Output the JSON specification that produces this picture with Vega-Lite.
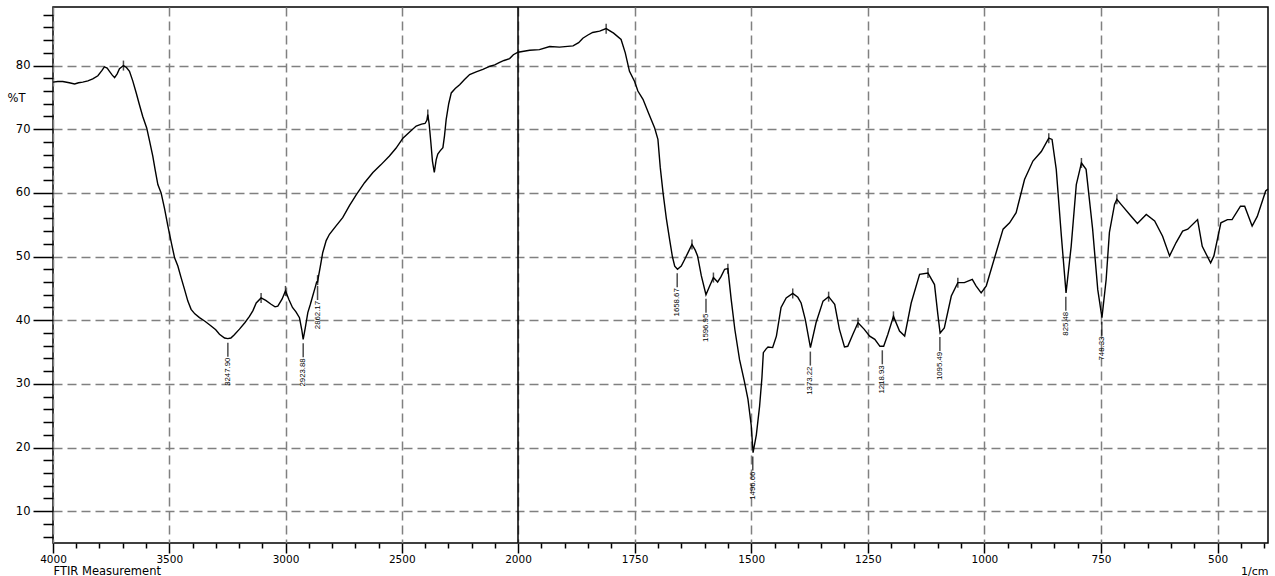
{
  "$schema": "https://vega.github.io/schema/vega-lite/v6.json",
  "autosize": "none",
  "width": 1215,
  "height": 536,
  "padding": {"left": 53, "top": 7, "right": 7, "bottom": 33},
  "background": "white",
  "config": {
    "view": {"stroke": "black", "strokeWidth": 1.5},
    "axis": {"labelFont": "DejaVu Sans", "titleFont": "DejaVu Sans", "labelColor": "black", "titleColor": "black", "titleFontWeight": "normal", "domain": false, "tickColor": "black"}
  },
  "datasets": {
    "spectrum": [
      {"wn":4000,"t":77.4},{"wn":3980,"t":77.5},{"wn":3958,"t":77.5},{"wn":3930,"t":77.3},{"wn":3907,"t":77.1},{"wn":3890,"t":77.3},{"wn":3872,"t":77.4},{"wn":3850,"t":77.6},{"wn":3829,"t":77.9},{"wn":3807,"t":78.4},{"wn":3790,"t":79.2},{"wn":3779,"t":79.8},{"wn":3767,"t":79.6},{"wn":3757,"t":79.1},{"wn":3745,"t":78.5},{"wn":3735,"t":78.1},{"wn":3724,"t":78.7},{"wn":3714,"t":79.5},{"wn":3697,"t":80.0},{"wn":3684,"t":79.7},{"wn":3671,"t":79.1},{"wn":3657,"t":77.6},{"wn":3642,"t":75.7},{"wn":3628,"t":73.8},{"wn":3614,"t":72.0},{"wn":3597,"t":70.2},{"wn":3585,"t":68.2},{"wn":3571,"t":65.8},{"wn":3560,"t":63.5},{"wn":3549,"t":61.3},{"wn":3535,"t":60.0},{"wn":3520,"t":57.5},{"wn":3506,"t":54.8},{"wn":3490,"t":52.0},{"wn":3477,"t":49.8},{"wn":3463,"t":48.5},{"wn":3450,"t":46.8},{"wn":3434,"t":44.8},{"wn":3420,"t":43.0},{"wn":3406,"t":41.7},{"wn":3390,"t":41.0},{"wn":3370,"t":40.4},{"wn":3345,"t":39.8},{"wn":3320,"t":39.1},{"wn":3300,"t":38.5},{"wn":3284,"t":37.8},{"wn":3262,"t":37.2},{"wn":3248,"t":37.1},{"wn":3235,"t":37.2},{"wn":3220,"t":37.7},{"wn":3198,"t":38.6},{"wn":3175,"t":39.6},{"wn":3155,"t":40.6},{"wn":3140,"t":41.5},{"wn":3126,"t":42.7},{"wn":3105,"t":43.5},{"wn":3085,"t":43.1},{"wn":3062,"t":42.5},{"wn":3045,"t":42.1},{"wn":3033,"t":42.2},{"wn":3015,"t":43.3},{"wn":3000,"t":44.6},{"wn":2985,"t":43.2},{"wn":2970,"t":42.0},{"wn":2955,"t":41.3},{"wn":2940,"t":40.4},{"wn":2930,"t":38.5},{"wn":2924,"t":37.0},{"wn":2915,"t":38.8},{"wn":2904,"t":41.2},{"wn":2893,"t":42.5},{"wn":2883,"t":43.8},{"wn":2872,"t":45.2},{"wn":2866,"t":46.0},{"wn":2862,"t":46.0},{"wn":2858,"t":46.9},{"wn":2850,"t":48.5},{"wn":2840,"t":50.6},{"wn":2825,"t":52.5},{"wn":2811,"t":53.5},{"wn":2785,"t":54.7},{"wn":2754,"t":56.1},{"wn":2725,"t":58.0},{"wn":2696,"t":59.7},{"wn":2660,"t":61.6},{"wn":2624,"t":63.2},{"wn":2590,"t":64.4},{"wn":2553,"t":65.8},{"wn":2525,"t":67.0},{"wn":2495,"t":68.6},{"wn":2465,"t":69.6},{"wn":2438,"t":70.5},{"wn":2415,"t":70.8},{"wn":2400,"t":70.9},{"wn":2392,"t":71.4},{"wn":2388,"t":72.3},{"wn":2382,"t":70.8},{"wn":2375,"t":68.0},{"wn":2368,"t":65.0},{"wn":2360,"t":63.2},{"wn":2352,"t":65.2},{"wn":2345,"t":66.1},{"wn":2335,"t":66.6},{"wn":2323,"t":67.1},{"wn":2316,"t":69.0},{"wn":2309,"t":71.5},{"wn":2298,"t":74.0},{"wn":2287,"t":75.7},{"wn":2270,"t":76.4},{"wn":2251,"t":77.0},{"wn":2230,"t":77.8},{"wn":2208,"t":78.6},{"wn":2180,"t":79.0},{"wn":2151,"t":79.4},{"wn":2120,"t":79.9},{"wn":2100,"t":80.1},{"wn":2079,"t":80.5},{"wn":2060,"t":80.8},{"wn":2036,"t":81.1},{"wn":2020,"t":81.7},{"wn":2000,"t":82.1},{"wn":1975,"t":82.4},{"wn":1954,"t":82.5},{"wn":1932,"t":83.0},{"wn":1911,"t":82.9},{"wn":1882,"t":83.1},{"wn":1870,"t":83.6},{"wn":1861,"t":84.3},{"wn":1850,"t":84.8},{"wn":1840,"t":85.2},{"wn":1825,"t":85.4},{"wn":1811,"t":85.8},{"wn":1795,"t":85.1},{"wn":1779,"t":84.1},{"wn":1770,"t":82.0},{"wn":1761,"t":79.1},{"wn":1750,"t":77.5},{"wn":1743,"t":76.0},{"wn":1732,"t":74.7},{"wn":1720,"t":72.5},{"wn":1707,"t":70.2},{"wn":1700,"t":68.4},{"wn":1695,"t":64.0},{"wn":1689,"t":60.0},{"wn":1682,"t":56.0},{"wn":1675,"t":52.7},{"wn":1669,"t":50.0},{"wn":1664,"t":48.5},{"wn":1658,"t":48.0},{"wn":1650,"t":48.5},{"wn":1643,"t":49.5},{"wn":1635,"t":50.7},{"wn":1627,"t":51.9},{"wn":1620,"t":51.0},{"wn":1615,"t":50.1},{"wn":1607,"t":47.0},{"wn":1597,"t":44.0},{"wn":1590,"t":45.2},{"wn":1581,"t":46.7},{"wn":1572,"t":46.0},{"wn":1565,"t":46.8},{"wn":1557,"t":48.0},{"wn":1550,"t":48.1},{"wn":1543,"t":43.3},{"wn":1535,"t":38.5},{"wn":1525,"t":33.8},{"wn":1515,"t":30.5},{"wn":1507,"t":27.6},{"wn":1500,"t":23.5},{"wn":1496,"t":19.2},{"wn":1489,"t":22.0},{"wn":1482,"t":26.5},{"wn":1477,"t":31.0},{"wn":1474,"t":34.9},{"wn":1468,"t":35.5},{"wn":1464,"t":35.8},{"wn":1454,"t":35.7},{"wn":1446,"t":37.5},{"wn":1436,"t":42.0},{"wn":1425,"t":43.5},{"wn":1411,"t":44.2},{"wn":1400,"t":43.6},{"wn":1393,"t":42.7},{"wn":1384,"t":40.1},{"wn":1373,"t":35.7},{"wn":1361,"t":39.6},{"wn":1346,"t":43.0},{"wn":1334,"t":43.7},{"wn":1321,"t":42.5},{"wn":1311,"t":38.6},{"wn":1300,"t":35.8},{"wn":1293,"t":35.9},{"wn":1282,"t":37.8},{"wn":1271,"t":39.6},{"wn":1258,"t":38.6},{"wn":1246,"t":37.5},{"wn":1235,"t":37.0},{"wn":1224,"t":35.9},{"wn":1216,"t":35.9},{"wn":1207,"t":37.8},{"wn":1195,"t":40.6},{"wn":1182,"t":38.3},{"wn":1171,"t":37.5},{"wn":1157,"t":42.7},{"wn":1139,"t":47.2},{"wn":1121,"t":47.4},{"wn":1107,"t":45.6},{"wn":1100,"t":41.0},{"wn":1095,"t":38.0},{"wn":1086,"t":38.8},{"wn":1071,"t":43.8},{"wn":1057,"t":45.9},{"wn":1043,"t":45.9},{"wn":1026,"t":46.4},{"wn":1018,"t":45.4},{"wn":1007,"t":44.3},{"wn":996,"t":45.4},{"wn":975,"t":50.6},{"wn":960,"t":54.3},{"wn":946,"t":55.3},{"wn":932,"t":56.9},{"wn":914,"t":62.1},{"wn":896,"t":65.0},{"wn":878,"t":66.5},{"wn":862,"t":68.6},{"wn":855,"t":68.4},{"wn":846,"t":63.7},{"wn":835,"t":53.2},{"wn":825,"t":44.3},{"wn":814,"t":51.6},{"wn":803,"t":61.3},{"wn":792,"t":64.7},{"wn":782,"t":63.7},{"wn":768,"t":54.3},{"wn":757,"t":44.8},{"wn":748,"t":40.4},{"wn":739,"t":46.4},{"wn":732,"t":53.8},{"wn":721,"t":58.2},{"wn":716,"t":59.0},{"wn":707,"t":58.2},{"wn":685,"t":56.3},{"wn":672,"t":55.2},{"wn":653,"t":56.6},{"wn":635,"t":55.6},{"wn":618,"t":53.2},{"wn":603,"t":50.1},{"wn":589,"t":52.2},{"wn":575,"t":54.0},{"wn":564,"t":54.3},{"wn":543,"t":55.8},{"wn":533,"t":51.6},{"wn":515,"t":49.0},{"wn":508,"t":50.1},{"wn":493,"t":55.3},{"wn":479,"t":55.8},{"wn":469,"t":55.8},{"wn":451,"t":57.9},{"wn":442,"t":57.9},{"wn":426,"t":54.8},{"wn":415,"t":56.3},{"wn":397,"t":60.3},{"wn":392,"t":60.6}
    ],
    "maxima": [
      {"wn":3697,"t":80.0},{"wn":3105,"t":43.5},{"wn":3000,"t":44.6},{"wn":2862,"t":46.3},{"wn":2388,"t":72.3},{"wn":1811,"t":85.8},{"wn":1627,"t":51.9},{"wn":1581,"t":46.7},{"wn":1550,"t":48.1},{"wn":1411,"t":44.2},{"wn":1334,"t":43.7},{"wn":1271,"t":39.6},{"wn":1195,"t":40.6},{"wn":1121,"t":47.4},{"wn":1057,"t":45.9},{"wn":862,"t":68.6},{"wn":792,"t":64.7},{"wn":716,"t":59.0}
    ],
    "minima": [
      {"wn":3247.9,"t":37.1,"label":"3247.90"},{"wn":2923.88,"t":37.0,"label":"2923.88"},{"wn":2862.17,"t":46.0,"label":"2862.17"},{"wn":1658.67,"t":48.0,"label":"1658.67"},{"wn":1596.95,"t":44.0,"label":"1596.95"},{"wn":1496.66,"t":19.2,"label":"1496.66"},{"wn":1373.22,"t":35.7,"label":"1373.22"},{"wn":1218.93,"t":35.9,"label":"1218.93"},{"wn":1095.49,"t":38.0,"label":"1095.49"},{"wn":825.48,"t":44.3,"label":"825.48"},{"wn":748.33,"t":40.4,"label":"748.33"}
    ],
    "divider": [{"wn":2000}],
    "minorx": [
      {"wn":3900},{"wn":3800},{"wn":3700},{"wn":3600},{"wn":3400},{"wn":3300},{"wn":3200},{"wn":3100},{"wn":2900},{"wn":2800},{"wn":2700},{"wn":2600},{"wn":2400},{"wn":2300},{"wn":2200},{"wn":2100}
    ]
  },
  "resolve": {"axis": {"x": "independent", "y": "independent"}},
  "layer": [
    {
      "data": {"name": "spectrum"},
      "mark": {"type": "line", "color": "black", "strokeWidth": 1.4, "interpolate": "linear"},
      "encoding": {
        "x": {"field": "wn", "type": "quantitative", "sort": null,
          "scale": {"type": "linear", "domain": [4000, 2000, 392], "range": [0, 465, 1215], "nice": false, "zero": false, "clamp": true},
          "axis": {"orient": "bottom", "values": [4000, 3500, 3000, 2500, 2000, 1750, 1500, 1250, 1000, 750, 500], "format": "d",
            "tickSize": 10, "tickWidth": 1.5, "labelFontSize": 10.5, "labelPadding": 1, "labelFlush": false, "labelOverlap": false,
            "grid": true, "gridColor": "#808080", "gridDash": [9, 5], "gridWidth": 1.5,
            "title": "1/cm", "titleFontSize": 11, "titleAnchor": null, "titleX": 1215, "titleY": 31, "titleAlign": "right", "titleBaseline": "alphabetic"}},
        "y": {"field": "t", "type": "quantitative",
          "scale": {"domain": [5, 89.2], "nice": false, "zero": false},
          "axis": {"orient": "left", "values": [10, 20, 30, 40, 50, 60, 70, 80],
            "tickSize": 20, "tickWidth": 1.5, "labelFontSize": 11.5, "labelPadding": 3,
            "grid": true, "gridColor": "#808080", "gridDash": [9, 5], "gridWidth": 1.5,
            "title": "%T", "titleFontSize": 11.5, "titleAngle": 0, "titleX": -46, "titleY": 91, "titleAlign": "left", "titleBaseline": "middle"}}
      }
    },
    {
      "data": {"name": "minorx"},
      "mark": {"type": "point", "opacity": 0},
      "encoding": {
        "x": {"field": "wn", "type": "quantitative",
          "axis": {"orient": "bottom", "values": [3900,3800,3700,3600,3400,3300,3200,3100,2900,2800,2700,2600,2400,2300,2200,2100,1950,1900,1850,1800,1700,1650,1600,1550,1450,1400,1350,1300,1200,1150,1100,1050,950,900,850,800,700,650,600,550,450,400],
            "tickSize": 5, "tickWidth": 1.5, "labels": false, "grid": false,
            "title": "FTIR Measurement", "titleFontSize": 11.5, "titleAnchor": null, "titleX": 0, "titleY": 31, "titleAlign": "left", "titleBaseline": "alphabetic"}},
        "y": {"datum": 50, "type": "quantitative",
          "axis": {"orient": "left", "values": [6,8,12,14,16,18,22,24,26,28,32,34,36,38,42,44,46,48,52,54,56,58,62,64,66,68,72,74,76,78,82,84,86,88],
            "tickSize": 10, "tickWidth": 1.5, "labels": false, "grid": false, "title": null}}
      }
    },
    {
      "data": {"name": "divider"},
      "mark": {"type": "rule", "color": "black", "strokeWidth": 1.5},
      "encoding": {"x": {"field": "wn", "type": "quantitative", "axis": null}}
    },
    {
      "data": {"name": "maxima"},
      "mark": {"type": "tick", "orient": "vertical", "color": "black", "thickness": 1.5, "size": 10},
      "encoding": {
        "x": {"field": "wn", "type": "quantitative", "axis": null},
        "y": {"field": "t", "type": "quantitative", "axis": null}
      }
    },
    {
      "data": {"name": "minima"},
      "mark": {"type": "tick", "orient": "vertical", "color": "black", "thickness": 1.5, "size": 14, "yOffset": 11},
      "encoding": {
        "x": {"field": "wn", "type": "quantitative", "axis": null},
        "y": {"field": "t", "type": "quantitative", "axis": null}
      }
    },
    {
      "data": {"name": "minima"},
      "mark": {"type": "text", "angle": 270, "align": "right", "baseline": "middle", "yOffset": 19, "font": "Liberation Sans", "fontSize": 7.8, "color": "black"},
      "encoding": {
        "x": {"field": "wn", "type": "quantitative", "axis": null},
        "y": {"field": "t", "type": "quantitative", "axis": null},
        "text": {"field": "label"}
      }
    }
  ]
}
